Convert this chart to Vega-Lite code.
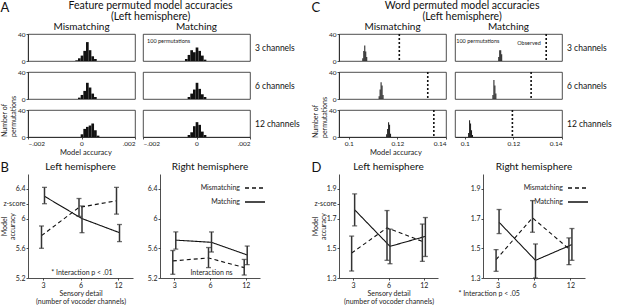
{
 "$schema": "https://vega.github.io/schema/vega-lite/v6.json",
 "padding": {"left": 0, "top": 1, "right": 0, "bottom": 0},
 "background": "white",
 "config": {
  "font": "Lato",
  "view": {"stroke": "#222", "strokeWidth": 0.8},
  "axis": {"grid": false, "domainColor": "#222", "tickColor": "#222", "labelColor": "#222", "titleColor": "#222", "labelFontSize": 7, "titleFontSize": 7, "titleLineHeight": 8, "titleFontWeight": "normal", "tickSize": 2, "domainWidth": 0.8, "tickWidth": 0.8, "labelPadding": 1, "labelOverlap": false},
  "title": {"fontWeight": "normal", "color": "#111", "fontSize": 10, "anchor": "middle"},
  "header": {"labelColor": "#111", "titleColor": "#222", "titleFontWeight": "normal"},
  "text": {"color": "#222"}
 },
 "datasets": {
  "hist": [
   {"set":"A","cond":"Mismatching","ch":"3 channels","x0":-0.00025,"x1":-0.00015,"n":1},
   {"set":"A","cond":"Mismatching","ch":"3 channels","x0":-0.00015,"x1":-0.00005,"n":4},
   {"set":"A","cond":"Mismatching","ch":"3 channels","x0":-0.00005,"x1":0.00005,"n":8},
   {"set":"A","cond":"Mismatching","ch":"3 channels","x0":0.00005,"x1":0.00015,"n":15},
   {"set":"A","cond":"Mismatching","ch":"3 channels","x0":0.00015,"x1":0.00025,"n":28},
   {"set":"A","cond":"Mismatching","ch":"3 channels","x0":0.00025,"x1":0.00035,"n":16},
   {"set":"A","cond":"Mismatching","ch":"3 channels","x0":0.00035,"x1":0.00045,"n":7},
   {"set":"A","cond":"Mismatching","ch":"3 channels","x0":0.00045,"x1":0.00055,"n":3},
   {"set":"A","cond":"Mismatching","ch":"6 channels","x0":-0.00015,"x1":-0.00005,"n":2},
   {"set":"A","cond":"Mismatching","ch":"6 channels","x0":-0.00005,"x1":0.00005,"n":6},
   {"set":"A","cond":"Mismatching","ch":"6 channels","x0":0.00005,"x1":0.00015,"n":12},
   {"set":"A","cond":"Mismatching","ch":"6 channels","x0":0.00015,"x1":0.00025,"n":24},
   {"set":"A","cond":"Mismatching","ch":"6 channels","x0":0.00025,"x1":0.00035,"n":17},
   {"set":"A","cond":"Mismatching","ch":"6 channels","x0":0.00035,"x1":0.00045,"n":8},
   {"set":"A","cond":"Mismatching","ch":"6 channels","x0":0.00045,"x1":0.00055,"n":3},
   {"set":"A","cond":"Mismatching","ch":"12 channels","x0":-0.00005,"x1":0.00005,"n":4},
   {"set":"A","cond":"Mismatching","ch":"12 channels","x0":0.00005,"x1":0.00015,"n":12},
   {"set":"A","cond":"Mismatching","ch":"12 channels","x0":0.00015,"x1":0.00025,"n":15},
   {"set":"A","cond":"Mismatching","ch":"12 channels","x0":0.00025,"x1":0.00035,"n":17},
   {"set":"A","cond":"Mismatching","ch":"12 channels","x0":0.00035,"x1":0.00045,"n":20},
   {"set":"A","cond":"Mismatching","ch":"12 channels","x0":0.00045,"x1":0.00055,"n":10},
   {"set":"A","cond":"Mismatching","ch":"12 channels","x0":0.00055,"x1":0.00065,"n":2},
   {"set":"A","cond":"Matching","ch":"3 channels","x0":-0.00045,"x1":-0.00035,"n":3},
   {"set":"A","cond":"Matching","ch":"3 channels","x0":-0.00035,"x1":-0.00025,"n":9},
   {"set":"A","cond":"Matching","ch":"3 channels","x0":-0.00025,"x1":-0.00015,"n":16},
   {"set":"A","cond":"Matching","ch":"3 channels","x0":-0.00015,"x1":-0.00005,"n":13},
   {"set":"A","cond":"Matching","ch":"3 channels","x0":-0.00005,"x1":0.00005,"n":20},
   {"set":"A","cond":"Matching","ch":"3 channels","x0":0.00005,"x1":0.00015,"n":15},
   {"set":"A","cond":"Matching","ch":"3 channels","x0":0.00015,"x1":0.00025,"n":8},
   {"set":"A","cond":"Matching","ch":"3 channels","x0":0.00025,"x1":0.00035,"n":2},
   {"set":"A","cond":"Matching","ch":"6 channels","x0":-0.00035,"x1":-0.00025,"n":3},
   {"set":"A","cond":"Matching","ch":"6 channels","x0":-0.00025,"x1":-0.00015,"n":8},
   {"set":"A","cond":"Matching","ch":"6 channels","x0":-0.00015,"x1":-0.00005,"n":14},
   {"set":"A","cond":"Matching","ch":"6 channels","x0":-0.00005,"x1":0.00005,"n":24},
   {"set":"A","cond":"Matching","ch":"6 channels","x0":0.00005,"x1":0.00015,"n":15},
   {"set":"A","cond":"Matching","ch":"6 channels","x0":0.00015,"x1":0.00025,"n":7},
   {"set":"A","cond":"Matching","ch":"6 channels","x0":0.00025,"x1":0.00035,"n":3},
   {"set":"A","cond":"Matching","ch":"12 channels","x0":-0.00035,"x1":-0.00025,"n":3},
   {"set":"A","cond":"Matching","ch":"12 channels","x0":-0.00025,"x1":-0.00015,"n":7},
   {"set":"A","cond":"Matching","ch":"12 channels","x0":-0.00015,"x1":-0.00005,"n":16},
   {"set":"A","cond":"Matching","ch":"12 channels","x0":-0.00005,"x1":0.00005,"n":22},
   {"set":"A","cond":"Matching","ch":"12 channels","x0":0.00005,"x1":0.00015,"n":18},
   {"set":"A","cond":"Matching","ch":"12 channels","x0":0.00015,"x1":0.00025,"n":8},
   {"set":"A","cond":"Matching","ch":"12 channels","x0":0.00025,"x1":0.00035,"n":3},
   {"set":"C","cond":"Mismatching","ch":"3 channels","x0":0.1054,"x1":0.1058,"n":4},
   {"set":"C","cond":"Mismatching","ch":"3 channels","x0":0.1058,"x1":0.1062,"n":15},
   {"set":"C","cond":"Mismatching","ch":"3 channels","x0":0.1062,"x1":0.1066,"n":23},
   {"set":"C","cond":"Mismatching","ch":"3 channels","x0":0.1066,"x1":0.1070,"n":14},
   {"set":"C","cond":"Mismatching","ch":"3 channels","x0":0.1070,"x1":0.1074,"n":6},
   {"set":"C","cond":"Mismatching","ch":"6 channels","x0":0.1121,"x1":0.1125,"n":4},
   {"set":"C","cond":"Mismatching","ch":"6 channels","x0":0.1125,"x1":0.1129,"n":14},
   {"set":"C","cond":"Mismatching","ch":"6 channels","x0":0.1129,"x1":0.1133,"n":25},
   {"set":"C","cond":"Mismatching","ch":"6 channels","x0":0.1133,"x1":0.1137,"n":20},
   {"set":"C","cond":"Mismatching","ch":"6 channels","x0":0.1137,"x1":0.1141,"n":6},
   {"set":"C","cond":"Mismatching","ch":"12 channels","x0":0.1152,"x1":0.1156,"n":4},
   {"set":"C","cond":"Mismatching","ch":"12 channels","x0":0.1156,"x1":0.1160,"n":12},
   {"set":"C","cond":"Mismatching","ch":"12 channels","x0":0.1160,"x1":0.1164,"n":22},
   {"set":"C","cond":"Mismatching","ch":"12 channels","x0":0.1164,"x1":0.1168,"n":18},
   {"set":"C","cond":"Mismatching","ch":"12 channels","x0":0.1168,"x1":0.1172,"n":5},
   {"set":"C","cond":"Matching","ch":"3 channels","x0":0.1136,"x1":0.1140,"n":6},
   {"set":"C","cond":"Matching","ch":"3 channels","x0":0.1140,"x1":0.1144,"n":16},
   {"set":"C","cond":"Matching","ch":"3 channels","x0":0.1144,"x1":0.1148,"n":16},
   {"set":"C","cond":"Matching","ch":"3 channels","x0":0.1148,"x1":0.1152,"n":10},
   {"set":"C","cond":"Matching","ch":"6 channels","x0":0.1112,"x1":0.1116,"n":6},
   {"set":"C","cond":"Matching","ch":"6 channels","x0":0.1116,"x1":0.1120,"n":28},
   {"set":"C","cond":"Matching","ch":"6 channels","x0":0.1120,"x1":0.1124,"n":20},
   {"set":"C","cond":"Matching","ch":"6 channels","x0":0.1124,"x1":0.1128,"n":8},
   {"set":"C","cond":"Matching","ch":"12 channels","x0":0.1012,"x1":0.1016,"n":6},
   {"set":"C","cond":"Matching","ch":"12 channels","x0":0.1016,"x1":0.1020,"n":25},
   {"set":"C","cond":"Matching","ch":"12 channels","x0":0.1020,"x1":0.1024,"n":20},
   {"set":"C","cond":"Matching","ch":"12 channels","x0":0.1024,"x1":0.1028,"n":10},
   {"set":"C","cond":"Matching","ch":"12 channels","x0":0.1028,"x1":0.1032,"n":3},
   {"set":"C","cond":"Mismatching","ch":"3 channels","obs":0.1208},
   {"set":"C","cond":"Mismatching","ch":"6 channels","obs":0.1325},
   {"set":"C","cond":"Mismatching","ch":"12 channels","obs":0.1350},
   {"set":"C","cond":"Matching","ch":"3 channels","obs":0.1335},
   {"set":"C","cond":"Matching","ch":"6 channels","obs":0.1273},
   {"set":"C","cond":"Matching","ch":"12 channels","obs":0.1196}
  ],
  "lines": [
   {"panel":"BL","cond":"Mismatching","ch":"3","m":5.77,"lo":5.60,"hi":5.90},
   {"panel":"BL","cond":"Mismatching","ch":"6","m":6.15,"lo":6.03,"hi":6.27},
   {"panel":"BL","cond":"Mismatching","ch":"12","m":6.24,"lo":6.06,"hi":6.42},
   {"panel":"BL","cond":"Matching","ch":"3","m":6.30,"lo":6.20,"hi":6.42},
   {"panel":"BL","cond":"Matching","ch":"6","m":6.00,"lo":5.81,"hi":6.17},
   {"panel":"BL","cond":"Matching","ch":"12","m":5.81,"lo":5.69,"hi":5.92},
   {"panel":"BR","cond":"Mismatching","ch":"3","m":5.43,"lo":5.25,"hi":5.57},
   {"panel":"BR","cond":"Mismatching","ch":"6","m":5.47,"lo":5.34,"hi":5.61},
   {"panel":"BR","cond":"Mismatching","ch":"12","m":5.34,"lo":5.24,"hi":5.45},
   {"panel":"BR","cond":"Matching","ch":"3","m":5.71,"lo":5.59,"hi":5.82},
   {"panel":"BR","cond":"Matching","ch":"6","m":5.68,"lo":5.55,"hi":5.82},
   {"panel":"BR","cond":"Matching","ch":"12","m":5.51,"lo":5.38,"hi":5.63},
   {"panel":"DL","cond":"Mismatching","ch":"3","m":1.468,"lo":1.347,"hi":1.582},
   {"panel":"DL","cond":"Mismatching","ch":"6","m":1.638,"lo":1.419,"hi":1.754},
   {"panel":"DL","cond":"Mismatching","ch":"12","m":1.546,"lo":1.412,"hi":1.663},
   {"panel":"DL","cond":"Matching","ch":"3","m":1.759,"lo":1.651,"hi":1.866},
   {"panel":"DL","cond":"Matching","ch":"6","m":1.513,"lo":1.396,"hi":1.629},
   {"panel":"DL","cond":"Matching","ch":"12","m":1.580,"lo":1.445,"hi":1.707},
   {"panel":"DR","cond":"Mismatching","ch":"3","m":1.424,"lo":1.345,"hi":1.491},
   {"panel":"DR","cond":"Mismatching","ch":"6","m":1.705,"lo":1.608,"hi":1.821},
   {"panel":"DR","cond":"Mismatching","ch":"12","m":1.496,"lo":1.390,"hi":1.570},
   {"panel":"DR","cond":"Matching","ch":"3","m":1.675,"lo":1.599,"hi":1.761},
   {"panel":"DR","cond":"Matching","ch":"6","m":1.419,"lo":1.300,"hi":1.529},
   {"panel":"DR","cond":"Matching","ch":"12","m":1.525,"lo":1.419,"hi":1.633}
  ]
 },
 "spacing": 10,
 "hconcat": [
  {
   "title": {"text": "A", "anchor": "start", "fontSize": 13, "offset": -14},
   "spacing": 5,
   "vconcat": [
    {
     "title": {"text": ["Feature permuted model accuracies", "(Left hemisphere)"], "fontSize": 10.5, "offset": 0, "lineHeight": 10.5, "anchor": "middle"},
     "vconcat": [
      {
       "data": {"name": "hist"},
       "transform": [{"filter": "datum.set == 'A'"}],
       "title": {"text": "Model accuracy", "orient": "bottom", "anchor": "start", "fontSize": 7.5, "color": "#222", "offset": 2, "dx": 59},
       "bounds": "flush",
       "spacing": {"row": 11, "column": 8},
       "facet": {
        "row": {"field": "ch", "type": "ordinal", "sort": ["3 channels", "6 channels", "12 channels"], "header": {"labels": false, "title": ["Number of", "permutations"], "titleOrient": "left", "titleAnchor": "start", "titleFontSize": 7, "titlePadding": -10}},
        "column": {"field": "cond", "type": "nominal", "sort": ["Mismatching", "Matching"], "header": {"title": null, "labelFontSize": 10, "labelPadding": 2}}
       },
       "spec": {
        "width": 107, "height": 27,
        "layer": [
         {
          "transform": [{"filter": "datum.n != null"}],
          "mark": {"type": "bar", "color": "#111", "binSpacing": 0},
          "encoding": {
           "x": {"field": "x0", "type": "quantitative", "bin": "binned", "scale": {"domain": [-0.002, 0.002], "nice": false}, "axis": {"title": null, "values": [-0.002, -0.001, 0, 0.001, 0.002], "labelExpr": "datum.value == 0 ? '0' : replace(format(datum.value, '.3f'), '0.', '.')", "labelFontSize": 6.5}},
           "x2": {"field": "x1"},
           "y": {"field": "n", "type": "quantitative", "scale": {"domain": [0, 40]}, "axis": {"title": null, "values": [0, 20, 40], "labelFontSize": 6.5}}
          }
         },
         {
          "transform": [{"filter": "datum.cond == 'Matching' && datum.ch == '3 channels' && datum.n != null"}, {"aggregate": [{"op": "count", "as": "k"}], "groupby": ["cond", "ch"]}],
          "mark": {"type": "text", "text": "100 permutations", "fontSize": 5.5, "align": "left", "baseline": "middle", "color": "#222"},
          "encoding": {"x": {"datum": -0.00185, "type": "quantitative"}, "y": {"datum": 29, "type": "quantitative"}}
         },
         {
          "transform": [{"filter": "datum.cond == 'Matching' && datum.n != null"}, {"aggregate": [{"op": "count", "as": "k"}], "groupby": ["cond", "ch"]}],
          "mark": {"type": "text", "align": "left", "baseline": "middle", "fontSize": 8.5, "dx": 5, "color": "#111"},
          "encoding": {"text": {"field": "ch"}, "x": {"datum": 0.002, "type": "quantitative"}, "y": {"datum": 20, "type": "quantitative"}}
         }
        ]
       }
      }
     ]
    },
    {
     "title": {"text": "B", "anchor": "start", "fontSize": 13, "offset": -13},
     "spacing": 12,
     "resolve": {"scale": {"strokeDash": "independent"}, "legend": {"strokeDash": "independent"}},
     "hconcat": [
      {
       "width": 105, "height": 104,
       "view": {"stroke": "transparent"},
       "title": {"text": "Left hemisphere", "fontSize": 10, "offset": 2, "anchor": "middle", "frame": "group"},
       "data": {"name": "lines"},
       "transform": [{"filter": "datum.panel == 'BL'"}],
       "encoding": {
        "x": {"field": "ch", "type": "ordinal", "sort": ["3", "6", "12"], "scale": {"type": "point", "padding": 0.4}, "axis": {"labelAngle": 0, "title": ["Sensory detail", "(number of vocoder channels)"], "titlePadding": 1}},
        "xOffset": {"field": "cond", "type": "nominal", "scale": {"type": "point", "domain": ["Mismatching", "Matching"], "range": [-3, 3]}}
       },
       "layer": [
        {"mark": {"type": "line", "color": "#111", "strokeWidth": 1.1}, "encoding": {"order": {"value": null}, "y": {"field": "m", "type": "quantitative", "scale": {"domain": [5.2, 6.6], "nice": false}, "axis": {"title": ["Model", "accuracy"], "titlePadding": -13, "labelOverlap": false, "values": [5.2, 5.6, 6, 6.2, 6.4], "format": "~g", "labelExpr": "datum.value > 6.1 && datum.value < 6.3 ? 'z-score' : datum.label"}}, "strokeDash": {"field": "cond", "type": "nominal", "scale": {"domain": ["Mismatching", "Matching"], "range": [[4, 3], [1, 0]]}, "legend": null}}},
        {"mark": {"type": "rule", "color": "#333", "strokeWidth": 1.5}, "encoding": {"y": {"field": "lo", "type": "quantitative", "axis": {"title": ["Model", "accuracy"], "titlePadding": -13, "labelOverlap": false, "values": [5.2, 5.6, 6, 6.2, 6.4], "format": "~g", "labelExpr": "datum.value > 6.1 && datum.value < 6.3 ? 'z-score' : datum.label"}}, "y2": {"field": "hi"}}},
        {"mark": {"type": "tick", "color": "#333", "size": 5, "thickness": 1.3}, "encoding": {"y": {"field": "lo", "type": "quantitative", "axis": {"title": ["Model", "accuracy"], "titlePadding": -13, "labelOverlap": false, "values": [5.2, 5.6, 6, 6.2, 6.4], "format": "~g", "labelExpr": "datum.value > 6.1 && datum.value < 6.3 ? 'z-score' : datum.label"}}}},
        {"mark": {"type": "tick", "color": "#333", "size": 5, "thickness": 1.3}, "encoding": {"y": {"field": "hi", "type": "quantitative", "axis": {"title": ["Model", "accuracy"], "titlePadding": -13, "labelOverlap": false, "values": [5.2, 5.6, 6, 6.2, 6.4], "format": "~g", "labelExpr": "datum.value > 6.1 && datum.value < 6.3 ? 'z-score' : datum.label"}}}},
        {"transform": [{"filter": "datum.ch == '6' && datum.cond == 'Matching'"}], "mark": {"type": "text", "text": "* Interaction p < .01", "fontSize": 7, "color": "#222"}, "encoding": {"x": {"datum": "6", "type": "ordinal"}, "y": {"datum": 5.27, "type": "quantitative", "axis": {"title": ["Model", "accuracy"], "titlePadding": -13, "labelOverlap": false, "values": [5.2, 5.6, 6, 6.2, 6.4], "format": "~g", "labelExpr": "datum.value > 6.1 && datum.value < 6.3 ? 'z-score' : datum.label"}}}}
       ]
      },
      {
       "width": 100, "height": 104,
       "view": {"stroke": "transparent"},
       "title": {"text": "Right hemisphere", "fontSize": 10, "offset": 2, "anchor": "middle", "frame": "group"},
       "data": {"name": "lines"},
       "transform": [{"filter": "datum.panel == 'BR'"}],
       "encoding": {
        "x": {"field": "ch", "type": "ordinal", "sort": ["3", "6", "12"], "scale": {"type": "point", "padding": 0.4}, "axis": {"labelAngle": 0, "title": null}},
        "xOffset": {"field": "cond", "type": "nominal", "scale": {"type": "point", "domain": ["Mismatching", "Matching"], "range": [-3, 3]}}
       },
       "layer": [
        {"mark": {"type": "line", "color": "#111", "strokeWidth": 1.1}, "encoding": {"order": {"value": null}, "y": {"field": "m", "type": "quantitative", "scale": {"domain": [5.2, 6.6], "nice": false}, "axis": {"title": null, "labelOverlap": false, "values": [5.2, 5.6, 6, 6.4], "format": "~g"}}, "strokeDash": {"field": "cond", "type": "nominal", "scale": {"domain": ["Mismatching", "Matching"], "range": [[4, 3], [1, 0]]}, "legend": {"orient": "none", "legendX": 84, "legendY": 3, "title": null, "symbolType": "stroke", "symbolSize": 400, "symbolStrokeWidth": 1.3, "symbolStrokeColor": "#111", "labelAlign": "right", "labelOffset": -26, "labelFontSize": 7, "labelColor": "#222", "rowPadding": -15}}}},
        {"mark": {"type": "rule", "color": "#333", "strokeWidth": 1.5}, "encoding": {"y": {"field": "lo", "type": "quantitative", "axis": {"title": null, "labelOverlap": false, "values": [5.2, 5.6, 6, 6.4], "format": "~g"}}, "y2": {"field": "hi"}}},
        {"mark": {"type": "tick", "color": "#333", "size": 5, "thickness": 1.3}, "encoding": {"y": {"field": "lo", "type": "quantitative", "axis": {"title": null, "labelOverlap": false, "values": [5.2, 5.6, 6, 6.4], "format": "~g"}}}},
        {"mark": {"type": "tick", "color": "#333", "size": 5, "thickness": 1.3}, "encoding": {"y": {"field": "hi", "type": "quantitative", "axis": {"title": null, "labelOverlap": false, "values": [5.2, 5.6, 6, 6.4], "format": "~g"}}}},
        {"transform": [{"filter": "datum.ch == '6' && datum.cond == 'Matching'"}], "mark": {"type": "text", "text": "Interaction ns", "fontSize": 7, "color": "#222"}, "encoding": {"x": {"datum": "6", "type": "ordinal"}, "y": {"datum": 5.27, "type": "quantitative", "axis": {"title": null, "labelOverlap": false, "values": [5.2, 5.6, 6, 6.4], "format": "~g"}}}}
       ]
      }
     ]
    }
   ]
  },
  {
   "title": {"text": "C", "anchor": "start", "fontSize": 13, "offset": -14},
   "spacing": 5,
   "vconcat": [
    {
     "title": {"text": ["Word permuted model accuracies", "(Left hemisphere)"], "fontSize": 10.5, "offset": 0, "lineHeight": 10.5, "anchor": "middle"},
     "vconcat": [
      {
       "data": {"name": "hist"},
       "transform": [{"filter": "datum.set == 'C'"}],
       "title": {"text": "Model accuracy", "orient": "bottom", "anchor": "start", "fontSize": 7.5, "color": "#222", "offset": 2, "dx": 58},
       "bounds": "flush",
       "spacing": {"row": 11, "column": 9},
       "facet": {
        "row": {"field": "ch", "type": "ordinal", "sort": ["3 channels", "6 channels", "12 channels"], "header": {"labels": false, "title": ["Number of", "permutations"], "titleOrient": "left", "titleAnchor": "start", "titleFontSize": 7, "titlePadding": -10}},
        "column": {"field": "cond", "type": "nominal", "sort": ["Mismatching", "Matching"], "header": {"title": null, "labelFontSize": 10, "labelPadding": 2}}
       },
       "spec": {
        "width": 107, "height": 27,
        "layer": [
         {
          "transform": [{"filter": "datum.n != null"}],
          "mark": {"type": "bar", "color": "#111", "binSpacing": 0},
          "encoding": {
           "x": {"field": "x0", "type": "quantitative", "bin": "binned", "scale": {"domain": [0.096, 0.14], "nice": false}, "axis": {"title": null, "values": [0.1, 0.11, 0.12, 0.13, 0.14], "format": "~g", "labelFontSize": 6.5}},
           "x2": {"field": "x1"},
           "y": {"field": "n", "type": "quantitative", "scale": {"domain": [0, 40]}, "axis": {"title": null, "values": [0, 20, 40], "labelFontSize": 6.5}}
          }
         },
         {
          "transform": [{"filter": "datum.obs != null"}],
          "mark": {"type": "rule", "color": "#111", "strokeWidth": 1.6, "strokeDash": [2, 2]},
          "encoding": {"x": {"field": "obs", "type": "quantitative"}}
         },
         {
          "transform": [{"filter": "datum.cond == 'Matching' && datum.ch == '3 channels' && datum.n != null"}, {"aggregate": [{"op": "count", "as": "k"}], "groupby": ["cond", "ch"]}],
          "mark": {"type": "text", "text": "100 permutations", "fontSize": 5.5, "align": "left", "baseline": "middle", "color": "#222"},
          "encoding": {"x": {"datum": 0.0965, "type": "quantitative"}, "y": {"datum": 29, "type": "quantitative"}}
         },
         {
          "transform": [{"filter": "datum.cond == 'Matching' && datum.ch == '3 channels' && datum.n != null"}, {"aggregate": [{"op": "count", "as": "k"}], "groupby": ["cond", "ch"]}],
          "mark": {"type": "text", "text": "Observed", "fontSize": 5.5, "align": "left", "baseline": "middle", "color": "#222"},
          "encoding": {"x": {"datum": 0.1216, "type": "quantitative"}, "y": {"datum": 26, "type": "quantitative"}}
         },
         {
          "transform": [{"filter": "datum.cond == 'Matching' && datum.n != null"}, {"aggregate": [{"op": "count", "as": "k"}], "groupby": ["cond", "ch"]}],
          "mark": {"type": "text", "align": "left", "baseline": "middle", "fontSize": 8.5, "dx": 5, "color": "#111"},
          "encoding": {"text": {"field": "ch"}, "x": {"datum": 0.14, "type": "quantitative"}, "y": {"datum": 20, "type": "quantitative"}}
         }
        ]
       }
      }
     ]
    },
    {
     "title": {"text": "D", "anchor": "start", "fontSize": 13, "offset": -13},
     "spacing": 18,
     "resolve": {"scale": {"strokeDash": "independent"}, "legend": {"strokeDash": "independent"}},
     "hconcat": [
      {
       "width": 99, "height": 104,
       "view": {"stroke": "transparent"},
       "title": {"text": "Left hemisphere", "fontSize": 10, "offset": 2, "anchor": "middle", "frame": "group"},
       "data": {"name": "lines"},
       "transform": [{"filter": "datum.panel == 'DL'"}],
       "encoding": {
        "x": {"field": "ch", "type": "ordinal", "sort": ["3", "6", "12"], "scale": {"type": "point", "padding": 0.4}, "axis": {"labelAngle": 0, "title": ["Sensory detail", "(number of vocoder channels)"], "titlePadding": 1}},
        "xOffset": {"field": "cond", "type": "nominal", "scale": {"type": "point", "domain": ["Mismatching", "Matching"], "range": [-3, 3]}}
       },
       "layer": [
        {"mark": {"type": "line", "color": "#111", "strokeWidth": 1.1}, "encoding": {"order": {"value": null}, "y": {"field": "m", "type": "quantitative", "scale": {"domain": [1.3, 2.0], "nice": false}, "axis": {"title": ["Model", "accuracy"], "titlePadding": -13, "labelOverlap": false, "values": [1.3, 1.5, 1.7, 1.8, 1.9], "format": "~g", "labelExpr": "datum.value > 1.75 && datum.value < 1.85 ? 'z-score' : datum.label"}}, "strokeDash": {"field": "cond", "type": "nominal", "scale": {"domain": ["Mismatching", "Matching"], "range": [[4, 3], [1, 0]]}, "legend": null}}},
        {"mark": {"type": "rule", "color": "#333", "strokeWidth": 1.5}, "encoding": {"y": {"field": "lo", "type": "quantitative", "axis": {"title": ["Model", "accuracy"], "titlePadding": -13, "labelOverlap": false, "values": [1.3, 1.5, 1.7, 1.8, 1.9], "format": "~g", "labelExpr": "datum.value > 1.75 && datum.value < 1.85 ? 'z-score' : datum.label"}}, "y2": {"field": "hi"}}},
        {"mark": {"type": "tick", "color": "#333", "size": 5, "thickness": 1.3}, "encoding": {"y": {"field": "lo", "type": "quantitative", "axis": {"title": ["Model", "accuracy"], "titlePadding": -13, "labelOverlap": false, "values": [1.3, 1.5, 1.7, 1.8, 1.9], "format": "~g", "labelExpr": "datum.value > 1.75 && datum.value < 1.85 ? 'z-score' : datum.label"}}}},
        {"mark": {"type": "tick", "color": "#333", "size": 5, "thickness": 1.3}, "encoding": {"y": {"field": "hi", "type": "quantitative", "axis": {"title": ["Model", "accuracy"], "titlePadding": -13, "labelOverlap": false, "values": [1.3, 1.5, 1.7, 1.8, 1.9], "format": "~g", "labelExpr": "datum.value > 1.75 && datum.value < 1.85 ? 'z-score' : datum.label"}}}}
       ]
      },
      {
       "width": 102, "height": 104,
       "view": {"stroke": "transparent"},
       "title": {"text": "Right hemisphere", "fontSize": 10, "offset": 2, "anchor": "middle", "frame": "group"},
       "data": {"name": "lines"},
       "transform": [{"filter": "datum.panel == 'DR'"}],
       "encoding": {
        "x": {"field": "ch", "type": "ordinal", "sort": ["3", "6", "12"], "scale": {"type": "point", "padding": 0.4}, "axis": {"labelAngle": 0, "title": null}},
        "xOffset": {"field": "cond", "type": "nominal", "scale": {"type": "point", "domain": ["Mismatching", "Matching"], "range": [-3, 3]}}
       },
       "layer": [
        {"mark": {"type": "line", "color": "#111", "strokeWidth": 1.1}, "encoding": {"order": {"value": null}, "y": {"field": "m", "type": "quantitative", "scale": {"domain": [1.3, 2.0], "nice": false}, "axis": {"title": null, "labelOverlap": false, "values": [1.3, 1.5, 1.7, 1.9], "format": "~g"}}, "strokeDash": {"field": "cond", "type": "nominal", "scale": {"domain": ["Mismatching", "Matching"], "range": [[4, 3], [1, 0]]}, "legend": {"orient": "none", "legendX": 84, "legendY": 3, "title": null, "symbolType": "stroke", "symbolSize": 400, "symbolStrokeWidth": 1.3, "symbolStrokeColor": "#111", "labelAlign": "right", "labelOffset": -26, "labelFontSize": 7, "labelColor": "#222", "rowPadding": -15}}}},
        {"mark": {"type": "rule", "color": "#333", "strokeWidth": 1.5}, "encoding": {"y": {"field": "lo", "type": "quantitative", "axis": {"title": null, "labelOverlap": false, "values": [1.3, 1.5, 1.7, 1.9], "format": "~g"}}, "y2": {"field": "hi"}}},
        {"mark": {"type": "tick", "color": "#333", "size": 5, "thickness": 1.3}, "encoding": {"y": {"field": "lo", "type": "quantitative", "axis": {"title": null, "labelOverlap": false, "values": [1.3, 1.5, 1.7, 1.9], "format": "~g"}}}},
        {"mark": {"type": "tick", "color": "#333", "size": 5, "thickness": 1.3}, "encoding": {"y": {"field": "hi", "type": "quantitative", "axis": {"title": null, "labelOverlap": false, "values": [1.3, 1.5, 1.7, 1.9], "format": "~g"}}}},
        {"transform": [{"filter": "datum.ch == '3' && datum.cond == 'Mismatching'"}], "mark": {"type": "text", "text": "* Interaction p < .05", "fontSize": 7, "align": "center", "dx": -7, "color": "#222"}, "encoding": {"x": {"datum": "3", "type": "ordinal"}, "y": {"datum": 1.19, "type": "quantitative", "axis": {"title": null, "labelOverlap": false, "values": [1.3, 1.5, 1.7, 1.9], "format": "~g"}}}}
       ]
      }
     ]
    }
   ]
  }
 ]
}
